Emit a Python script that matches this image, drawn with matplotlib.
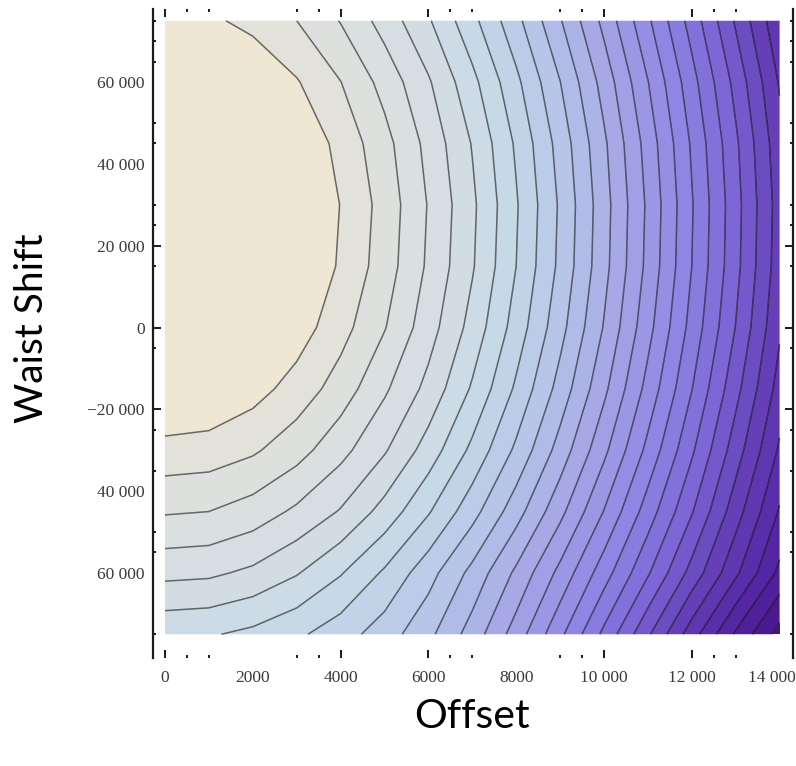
import matplotlib
matplotlib.use("Agg")
import numpy as np
import matplotlib.pyplot as plt
import matplotlib.transforms as mtransforms
from matplotlib.colors import LinearSegmentedColormap

# ---- data ----
offset = [0, 1000, 2000, 3000, 4000, 5000, 6000, 7000, 8000, 9000, 10000, 11000, 12000, 13000, 14000]
waist_shift = [75000, 60000, 45000, 30000, 15000, 0, -15000, -30000, -45000, -60000, -75000]
# contour index (0 = beige plateau side, increasing towards dark purple)
row_p75 = [0.62, 0.79, 1.33, 2.00, 3.05, 4.40, 5.88, 7.71, 9.70, 11.91, 14.28, 16.82, 19.42, 22.13, 24.80]
row_p60 = [-0.88, -0.64, 0.02, 0.92, 1.98, 3.35, 4.88, 6.71, 8.76, 10.98, 13.39, 15.97, 18.63, 21.32, 24.10]
row_p45 = [-2.38, -1.96, -1.02, 0.11, 1.32, 2.65, 4.31, 6.06, 8.15, 10.39, 12.82, 15.41, 18.13, 20.82, 23.65]
row_p30 = [-3.88, -2.85, -1.56, -0.27, 1.03, 2.38, 4.06, 5.80, 7.90, 10.14, 12.60, 15.18, 17.92, 20.63, 23.46]
row_p15 = [-3.03, -2.45, -1.34, -0.12, 1.14, 2.49, 4.16, 5.90, 8.00, 10.23, 12.68, 15.27, 18.00, 20.70, 23.54]
row_0 = [-1.60, -1.29, -0.52, 0.49, 1.62, 2.94, 4.56, 6.36, 8.43, 10.65, 13.07, 15.66, 18.35, 21.03, 23.85]
row_m15 = [-0.17, 0.04, 0.60, 1.41, 2.45, 3.84, 5.30, 7.13, 9.17, 11.38, 13.77, 16.34, 18.97, 21.68, 24.40]
row_m30 = [1.35, 1.45, 1.85, 2.60, 3.68, 4.89, 6.44, 8.24, 10.20, 12.41, 14.76, 17.28, 19.84, 22.52, 25.15]
row_m45 = [2.90, 3.00, 3.44, 4.19, 5.08, 6.37, 7.90, 9.62, 11.58, 13.71, 16.04, 18.48, 20.92, 23.56, 26.10]
row_m60 = [4.72, 4.81, 5.21, 5.92, 6.92, 8.15, 9.61, 11.30, 13.20, 15.29, 17.55, 19.88, 22.36, 24.80, 27.25]
row_m75 = [6.80, 6.90, 7.25, 7.81, 8.55, 9.50, 10.74, 12.44, 14.46, 16.77, 19.24, 21.84, 24.54, 27.15, 29.40]

x_tick_labels = ["0", "2000", "4000", "6000", "8000", "10 000", "12 000", "14 000"]
x_label_vals = [0, 2000, 4000, 6000, 8000, 10000, 12000, 14000]
x_major_marks = [0, 4000, 6000, 10000, 12000]
x_minor_marks = [500, 1000, 3000, 3500, 6500, 7000, 9000, 9500, 12500, 13000]
y_label_vals = [60000, 40000, 20000, 0, -20000, -40000, -60000]
y_tick_labels = ["60 000", "40 000", "20 000", "0", "\u221220 000", "40 000", "60 000"]
y_major_marks = [20000, 0, -20000]
y_minor_marks = [75000, 70000, 65000, 50000, 45000, 30000, 25000, 15000,
                 -5000, -25000, -35000, -50000, -55000, -75000]

Z = np.array([row_p75, row_p60, row_p45, row_p30, row_p15, row_0,
              row_m15, row_m30, row_m45, row_m60, row_m75])
X, Y = np.meshgrid(offset, waist_shift)

levels = [-10] + list(range(1, 31))
nb = len(levels) - 1

cmap = LinearSegmentedColormap.from_list("mma", [
    (0 / 29, "#EFE6D4"),
    (1 / 29, "#E1E1DB"),
    (4 / 29, "#D6DEE1"),
    (7 / 29, "#C6D9E7"),
    (10 / 29, "#B6C5E8"),
    (13 / 29, "#A6A9E6"),
    (17 / 29, "#8F86E4"),
    (20 / 29, "#7D66D6"),
    (23 / 29, "#6440B8"),
    (26 / 29, "#5426A4"),
    (29 / 29, "#481488"),
])
band_colors = [cmap(i / (nb - 1)) for i in range(nb)]

W, H = 796, 766
fig = plt.figure(figsize=(W / 100, H / 100), dpi=100)
ax_l, ax_r, ax_t, ax_b = 153, 793, 9, 658
ax = fig.add_axes([ax_l / W, 1 - ax_b / H, (ax_r - ax_l) / W, (ax_b - ax_t) / H])

ax.contourf(X, Y, Z, levels=levels, colors=band_colors, antialiased=True)
ax.contour(X, Y, Z, levels=levels[1:-1], colors="black", linewidths=1.1, alpha=0.55)

pxx = 43.9 / 1000.0
pxy = 4.09 / 1000.0
ax.set_xlim((ax_l - 165) / pxx, (ax_r - 165) / pxx)
ax.set_ylim((327.5 - ax_b) / pxy, (327.5 - ax_t) / pxy)

for s in ["top", "bottom"]:
    ax.spines[s].set_visible(False)
for s in ["left", "right"]:
    ax.spines[s].set_linewidth(1.6)
    ax.spines[s].set_color("#1a1a1a")

tfont = dict(family="Liberation Serif", size=12.5, color="#3a3a3a")
ax.set_xticks(x_label_vals)
ax.set_xticklabels(x_tick_labels, fontdict=tfont)
ax.set_yticks(y_label_vals)
ax.set_yticklabels(y_tick_labels, fontdict=tfont)
ax.set_xticks(x_minor_marks, minor=True)
ax.set_yticks(y_minor_marks, minor=True)
ax.tick_params(which="both", direction="in", top=True, bottom=True, left=True, right=True,
               width=1.4, color="#1a1a1a")
ax.tick_params(which="major", length=6)
ax.tick_params(which="minor", length=2.5)
ax.tick_params(axis="x", which="major", pad=9)
ax.tick_params(axis="y", which="major", pad=6)

for v, t in zip(x_label_vals, ax.xaxis.get_major_ticks()):
    if v not in x_major_marks:
        t.tick1line.set_markersize(0)
        t.tick2line.set_markersize(0)
for v, t in zip(y_label_vals, ax.yaxis.get_major_ticks()):
    if v not in y_major_marks:
        t.tick1line.set_markersize(0)
        t.tick2line.set_markersize(0)

# keep the last x label inside the canvas
last = ax.get_xticklabels()[-1]
last.set_transform(last.get_transform() +
                   mtransforms.ScaledTranslation(-8 / 100, 0, fig.dpi_scale_trans))

fig.text(32 / W, 1 - 328 / H, "Waist Shift", rotation=90, ha="center", va="center",
         family="Lato", size=28, color="black")
fig.text(472 / W, 1 - 717 / H, "Offset", ha="center", va="center",
         family="Lato", size=29.5, color="black")

fig.savefig("out.png", dpi=100)
